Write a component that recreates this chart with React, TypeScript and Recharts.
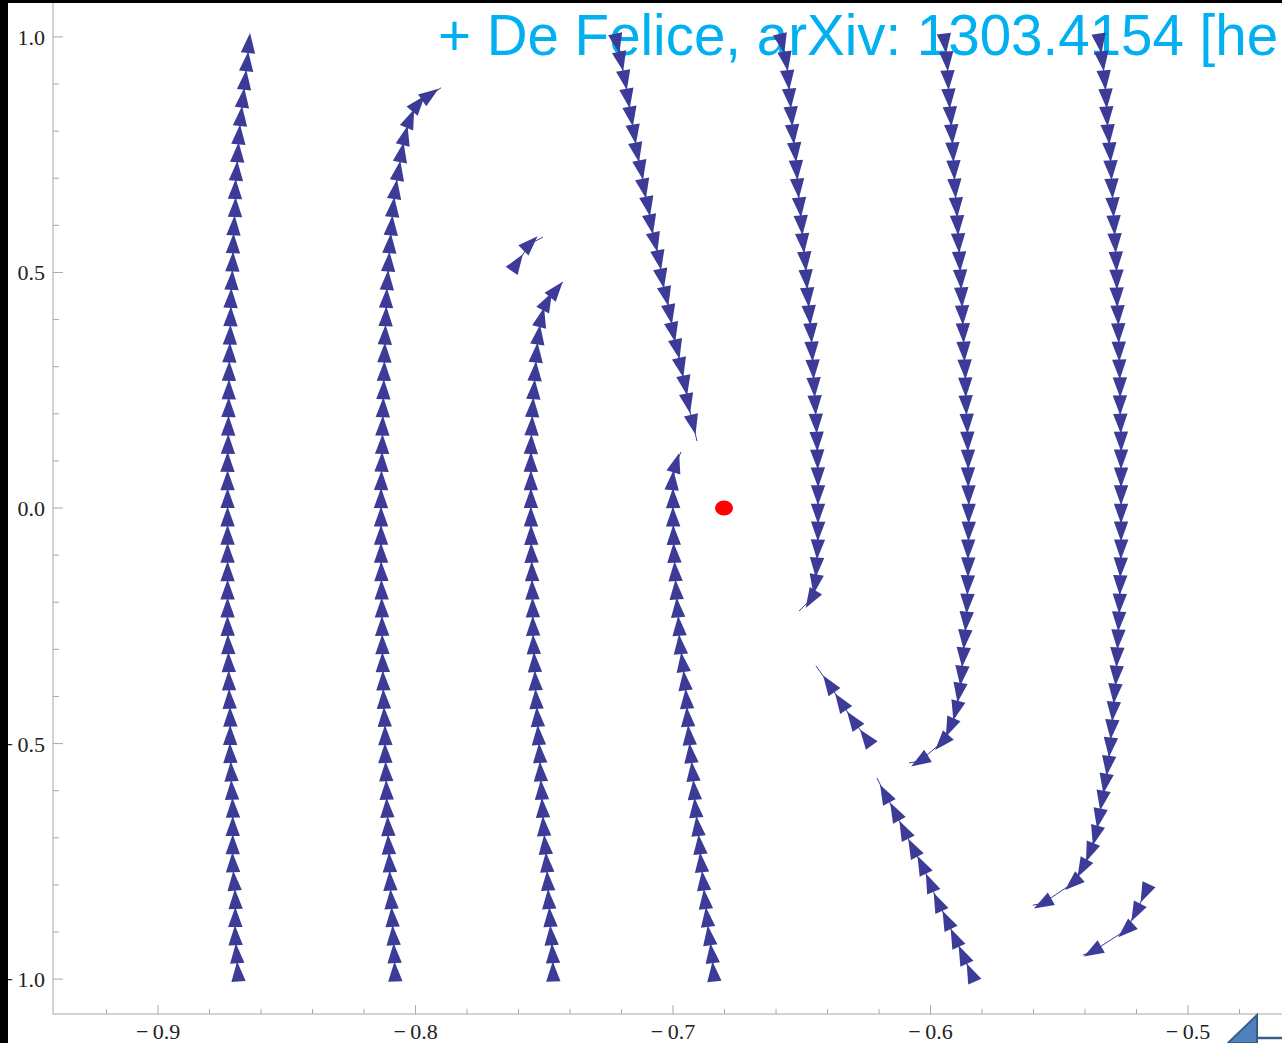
import React from "react";
import { ComposedChart, Line, XAxis, YAxis } from "recharts";

type Pt = [number, number];

// streamlines: arrowhead centres in flow order, last point = where the stream ends
const streamA: Pt[] = [
  [-0.869, -0.985], [-0.8695, -0.946], [-0.87, -0.908], [-0.87, -0.869], [-0.87, -0.831], [-0.8705, -0.792],
  [-0.871, -0.753], [-0.871, -0.715], [-0.871, -0.676], [-0.871, -0.637], [-0.8714, -0.599], [-0.8716, -0.56],
  [-0.872, -0.521], [-0.872, -0.483], [-0.872, -0.444], [-0.8723, -0.406], [-0.8725, -0.367], [-0.8726, -0.328],
  [-0.8728, -0.29], [-0.873, -0.251], [-0.873, -0.212], [-0.873, -0.174], [-0.873, -0.135], [-0.873, -0.096],
  [-0.873, -0.058], [-0.873, -0.019], [-0.873, 0.02], [-0.873, 0.058], [-0.873, 0.097], [-0.8728, 0.135],
  [-0.8727, 0.174], [-0.8726, 0.213], [-0.8725, 0.251], [-0.8724, 0.29], [-0.8722, 0.329], [-0.872, 0.367],
  [-0.8718, 0.406], [-0.8717, 0.445], [-0.8713, 0.483], [-0.871, 0.522], [-0.8708, 0.561], [-0.8705, 0.599],
  [-0.87, 0.638], [-0.87, 0.676], [-0.8695, 0.715], [-0.869, 0.754], [-0.8685, 0.792], [-0.8678, 0.831],
  [-0.867, 0.87], [-0.8662, 0.908], [-0.8654, 0.947], [-0.8647, 0.986], [-0.8643, 1.004],
];

const streamB: Pt[] = [
  [-0.808, -0.985], [-0.8083, -0.946], [-0.8087, -0.908], [-0.8091, -0.869], [-0.8095, -0.831], [-0.8099, -0.792],
  [-0.8101, -0.753], [-0.8105, -0.715], [-0.8107, -0.676], [-0.8111, -0.637], [-0.8113, -0.599], [-0.8115, -0.56],
  [-0.8118, -0.521], [-0.8118, -0.483], [-0.8121, -0.444], [-0.8124, -0.406], [-0.8126, -0.367], [-0.8128, -0.328],
  [-0.8129, -0.29], [-0.813, -0.251], [-0.8131, -0.212], [-0.8132, -0.174], [-0.8133, -0.135], [-0.8134, -0.096],
  [-0.8134, -0.058], [-0.8134, -0.019], [-0.8134, 0.02], [-0.8133, 0.058], [-0.8131, 0.097], [-0.8129, 0.135],
  [-0.8128, 0.174], [-0.8126, 0.213], [-0.8124, 0.251], [-0.8122, 0.29], [-0.812, 0.329], [-0.8118, 0.367],
  [-0.8115, 0.406], [-0.8113, 0.445], [-0.8109, 0.483], [-0.8104, 0.522], [-0.8099, 0.561], [-0.8093, 0.599],
  [-0.8087, 0.638], [-0.8078, 0.676], [-0.8066, 0.715], [-0.8054, 0.754], [-0.8041, 0.79], [-0.8021, 0.826],
  [-0.799, 0.858], [-0.7944, 0.877], [-0.7901, 0.892],
];

const streamC: Pt[] = [
  [-0.7466, -0.985], [-0.7468, -0.946], [-0.7474, -0.908], [-0.7478, -0.869], [-0.7483, -0.831], [-0.7487, -0.792],
  [-0.7491, -0.753], [-0.7497, -0.715], [-0.7503, -0.676], [-0.7507, -0.637], [-0.7511, -0.599], [-0.7515, -0.56],
  [-0.7518, -0.521], [-0.7523, -0.483], [-0.7527, -0.444], [-0.7532, -0.406], [-0.7535, -0.367], [-0.7538, -0.328],
  [-0.7542, -0.29], [-0.7544, -0.251], [-0.7545, -0.212], [-0.7547, -0.174], [-0.7548, -0.135], [-0.755, -0.096],
  [-0.7551, -0.058], [-0.7552, -0.019], [-0.7552, 0.02], [-0.7552, 0.058], [-0.7552, 0.097], [-0.7551, 0.135],
  [-0.7548, 0.174], [-0.7545, 0.213], [-0.754, 0.251], [-0.7535, 0.29], [-0.753, 0.329], [-0.7522, 0.367],
  [-0.7511, 0.404], [-0.7489, 0.438], [-0.7454, 0.463], [-0.7427, 0.48],
];

const streamD: Pt[] = [
  [-0.6843, -0.985], [-0.685, -0.946], [-0.686, -0.908], [-0.6868, -0.869], [-0.6876, -0.831], [-0.6883, -0.792],
  [-0.6891, -0.753], [-0.6897, -0.715], [-0.6905, -0.676], [-0.6913, -0.637], [-0.6918, -0.599], [-0.6924, -0.56],
  [-0.6932, -0.521], [-0.6938, -0.483], [-0.6944, -0.444], [-0.6948, -0.406], [-0.6955, -0.367], [-0.6963, -0.328],
  [-0.6973, -0.29], [-0.6977, -0.251], [-0.6983, -0.212], [-0.6988, -0.174], [-0.6992, -0.135], [-0.6996, -0.096],
  [-0.6998, -0.058], [-0.7, -0.019], [-0.7, 0.02], [-0.7002, 0.058], [-0.6988, 0.095], [-0.6969, 0.119],
];

const streamE: Pt[] = [
  [-0.7217, 0.987], [-0.7202, 0.949], [-0.7187, 0.909], [-0.7175, 0.87], [-0.7163, 0.832], [-0.7151, 0.794],
  [-0.714, 0.756], [-0.7124, 0.718], [-0.7113, 0.679], [-0.7097, 0.641], [-0.7086, 0.603], [-0.707, 0.565],
  [-0.7054, 0.527], [-0.7043, 0.488], [-0.7027, 0.45], [-0.7012, 0.412], [-0.7, 0.374], [-0.6984, 0.338],
  [-0.6969, 0.299], [-0.6953, 0.261], [-0.6942, 0.223], [-0.6922, 0.178], [-0.6907, 0.142],
];

const streamF: Pt[] = [
  [-0.6577, 0.987], [-0.6561, 0.949], [-0.6553, 0.909], [-0.6546, 0.87], [-0.654, 0.832], [-0.6534, 0.794],
  [-0.6526, 0.756], [-0.652, 0.718], [-0.6515, 0.679], [-0.6507, 0.639], [-0.6501, 0.601], [-0.6495, 0.563],
  [-0.6487, 0.524], [-0.6482, 0.486], [-0.6476, 0.448], [-0.647, 0.41], [-0.6464, 0.372], [-0.646, 0.333],
  [-0.6456, 0.295], [-0.6452, 0.257], [-0.6448, 0.219], [-0.6444, 0.18], [-0.6441, 0.142], [-0.6439, 0.104],
  [-0.6437, 0.066], [-0.6437, 0.028], [-0.6437, -0.011], [-0.6437, -0.049], [-0.6439, -0.087], [-0.6443, -0.125],
  [-0.6448, -0.161], [-0.6464, -0.193], [-0.6511, -0.219],
];

const streamG: Pt[] = [
  [-0.5944, 0.987], [-0.5936, 0.949], [-0.5932, 0.909], [-0.5928, 0.87], [-0.5922, 0.832], [-0.5917, 0.794],
  [-0.5913, 0.756], [-0.5909, 0.718], [-0.5905, 0.679], [-0.5899, 0.639], [-0.5895, 0.601], [-0.5891, 0.563],
  [-0.5887, 0.524], [-0.5883, 0.486], [-0.5879, 0.448], [-0.5876, 0.41], [-0.5873, 0.372], [-0.587, 0.333],
  [-0.5866, 0.295], [-0.5864, 0.257], [-0.5862, 0.219], [-0.5858, 0.18], [-0.5856, 0.142], [-0.5854, 0.104],
  [-0.5854, 0.066], [-0.5852, 0.028], [-0.5852, -0.011], [-0.5852, -0.049], [-0.5854, -0.087], [-0.5854, -0.125],
  [-0.5856, -0.163], [-0.5858, -0.202], [-0.5862, -0.24], [-0.5868, -0.278], [-0.5874, -0.316], [-0.588, -0.355],
  [-0.5889, -0.391], [-0.5901, -0.429], [-0.5924, -0.465], [-0.5955, -0.497], [-0.6041, -0.537], [-0.6083, -0.541],
];

const streamH: Pt[] = [
  [-0.5342, 0.987], [-0.5332, 0.949], [-0.5324, 0.909], [-0.5318, 0.87], [-0.5315, 0.832], [-0.5309, 0.794],
  [-0.5303, 0.756], [-0.5299, 0.718], [-0.5295, 0.679], [-0.5291, 0.639], [-0.5287, 0.601], [-0.5283, 0.563],
  [-0.5279, 0.524], [-0.5277, 0.486], [-0.5276, 0.448], [-0.5272, 0.41], [-0.527, 0.372], [-0.5268, 0.333],
  [-0.5266, 0.295], [-0.5264, 0.257], [-0.5264, 0.219], [-0.5262, 0.18], [-0.526, 0.142], [-0.526, 0.104],
  [-0.526, 0.066], [-0.526, 0.028], [-0.526, -0.011], [-0.526, -0.049], [-0.526, -0.087], [-0.5262, -0.125],
  [-0.5264, -0.163], [-0.5266, -0.202], [-0.5269, -0.24], [-0.5272, -0.278], [-0.5276, -0.316], [-0.5279, -0.355],
  [-0.5285, -0.393], [-0.5291, -0.431], [-0.5297, -0.469], [-0.5303, -0.507], [-0.5311, -0.546], [-0.5322, -0.584],
  [-0.5334, -0.62], [-0.5346, -0.658], [-0.5359, -0.694], [-0.5381, -0.73], [-0.541, -0.764], [-0.5447, -0.796],
  [-0.5563, -0.839], [-0.5602, -0.843],
];

const streamI: Pt[] = [
  [-0.5167, -0.817], [-0.5202, -0.858], [-0.5241, -0.896], [-0.5369, -0.941], [-0.5408, -0.949],
];

const streamJ: Pt[] = [
  [-0.5843, -0.987], [-0.5874, -0.949], [-0.5905, -0.913], [-0.5936, -0.875], [-0.5971, -0.837], [-0.6002, -0.796],
  [-0.6033, -0.758], [-0.6068, -0.722], [-0.6103, -0.684], [-0.6138, -0.645], [-0.6177, -0.607], [-0.6208, -0.573],
];

const streamK: Pt[] = [
  [-0.625, -0.488], [-0.6301, -0.45], [-0.6348, -0.412], [-0.6394, -0.374], [-0.6445, -0.335],
];

const streamS: Pt[] = [
  [-0.7606, 0.52], [-0.7555, 0.561], [-0.7505, 0.575],
];

const fixedPoint: Pt[] = [[-0.6802, 0]];

const xTicks = [
  -0.92, -0.9, -0.88, -0.86, -0.84, -0.82, -0.8, -0.78, -0.76, -0.74, -0.72, -0.7,
  -0.68, -0.66, -0.64, -0.62, -0.6, -0.58, -0.56, -0.54, -0.52, -0.5, -0.48,
];
const xLabels = [-0.9, -0.8, -0.7, -0.6, -0.5];
const yTicks = [
  -1.0, -0.9, -0.8, -0.7, -0.6, -0.5, -0.4, -0.3, -0.2, -0.1, 0.0,
  0.1, 0.2, 0.3, 0.4, 0.5, 0.6, 0.7, 0.8, 0.9, 1.0,
];
const yLabels = [-1.0, -0.5, 0.0, 0.5, 1.0];

const caption = "+ De Felice, arXiv: 1303.4154 [he";

const streams = [streamA, streamB, streamC, streamD, streamE, streamF, streamG, streamH, streamI, streamJ, streamK, streamS];

const ARROW = "#3d3b98";
const FRAME = "#a8a8a8";
const SERIF = "'Liberation Serif', 'Times New Roman', serif";

const rows = (pts: Pt[]) => pts.map(([x, y]) => ({ x, y }));

const fmt = (v: number) => {
  const s = Math.abs(v).toFixed(1);
  return v < 0 ? `\u2212\u2009${s}` : s;
};

// arrowhead pointing along the stream; the stream's last point only ends the line
function Arrow(props: any) {
  const { cx, cy, index, points } = props;
  const pts = points || [];
  const n = pts.length;
  if (cx == null || cy == null || n < 2 || index === n - 1) return <g key={`e-${index}`} />;
  const a = pts[Math.max(index - 1, 0)];
  const b = pts[Math.min(index + 1, n - 1)];
  let dx = b.x - a.x;
  let dy = b.y - a.y;
  const len = Math.hypot(dx, dy) || 1;
  dx /= len;
  dy /= len;
  const tx = cx + dx * 10.5;
  const ty = cy + dy * 10.5;
  const bx = cx - dx * 9.5;
  const by = cy - dy * 9.5;
  const px = -dy * 7.2;
  const py = dx * 7.2;
  return (
    <polygon
      key={`a-${index}`}
      points={`${tx},${ty} ${bx + px},${by + py} ${bx - px},${by - py}`}
      fill={ARROW}
    />
  );
}

function RedDot(props: any) {
  const { cx, cy, index } = props;
  if (cx == null || cy == null) return <g key={`r-${index}`} />;
  return <ellipse key={`r-${index}`} cx={cx} cy={cy} rx={9} ry={7.5} fill="#ff0000" />;
}

function BottomTick(props: any) {
  const { x, y, payload } = props;
  const major = xLabels.includes(payload.value);
  return (
    <g>
      <line x1={x} x2={x} y1={y} y2={y - (major ? 9 : 5)} stroke={FRAME} />
      {major && (
        <text x={x} y={y + 25} textAnchor="middle" fontFamily={SERIF} fontSize={22} fill="#222">
          {fmt(payload.value)}
        </text>
      )}
    </g>
  );
}

function TopTick(props: any) {
  const { x, y, payload } = props;
  const major = xLabels.includes(payload.value);
  return <line x1={x} x2={x} y1={y} y2={y + (major ? 9 : 5)} stroke={FRAME} />;
}

function LeftTick(props: any) {
  const { x, y, payload } = props;
  const major = yLabels.includes(payload.value);
  return (
    <g>
      <line x1={x} x2={x + (major ? 10 : 6)} y1={y} y2={y} stroke={FRAME} />
      {major && (
        <text x={x - 8} y={y + 8} textAnchor="end" fontFamily={SERIF} fontSize={22} fill="#222">
          {fmt(payload.value)}
        </text>
      )}
    </g>
  );
}

export default function App() {
  return (
    <div
      style={{
        position: "fixed",
        left: 0,
        top: 0,
        width: 1282,
        height: 1043,
        overflow: "hidden",
        background: "#fff",
      }}
    >
      <svg width={1282} height={80} style={{ position: "absolute", left: 0, top: 0 }}>
        <text
          x={438}
          y={55}
          fontFamily="'Liberation Sans', Arial, sans-serif"
          fontSize={56.5}
          fill="#00b0f0"
        >
          {caption}
        </text>
      </svg>
      <div style={{ position: "absolute", left: 0, top: 0 }}>
        <ComposedChart width={1291} height={1043} margin={{ top: 3, right: 0, bottom: 0, left: 0 }}>
          <XAxis
            type="number"
            dataKey="x"
            domain={[-0.9408, -0.46]}
            allowDataOverflow
            ticks={xTicks}
            interval={0}
            height={29}
            tickSize={0}
            tickMargin={0}
            tickLine={false}
            axisLine={{ stroke: FRAME }}
            tick={(p: any) => <BottomTick {...p} />}
          />
          <XAxis
            xAxisId="top"
            orientation="top"
            type="number"
            dataKey="x"
            domain={[-0.9408, -0.46]}
            allowDataOverflow
            ticks={xTicks}
            interval={0}
            height={0}
            tickSize={0}
            tickMargin={0}
            tickLine={false}
            axisLine={{ stroke: FRAME }}
            tick={(p: any) => <TopTick {...p} />}
          />
          <YAxis
            type="number"
            dataKey="y"
            domain={[-1.074, 1.072]}
            allowDataOverflow
            ticks={yTicks}
            interval={0}
            width={53}
            tickSize={0}
            tickMargin={0}
            tickLine={false}
            axisLine={{ stroke: FRAME }}
            tick={(p: any) => <LeftTick {...p} />}
          />
          {streams.map((s, i) => (
            <Line
              key={i}
              data={rows(s)}
              dataKey="y"
              type="linear"
              stroke={ARROW}
              strokeWidth={1}
              dot={Arrow}
              activeDot={false}
              isAnimationActive={false}
            />
          ))}
          <Line
            data={rows(fixedPoint)}
            dataKey="y"
            stroke="none"
            dot={RedDot}
            activeDot={false}
            isAnimationActive={false}
          />
        </ComposedChart>
      </div>
      <svg width={60} height={32} style={{ position: "absolute", left: 1224, top: 1011 }}>
        <polygon points="33,4 4,32 33,32" fill="#4f81bd" stroke="#385d8a" strokeWidth={2} />
        <line x1={33} y1={27} x2={60} y2={27} stroke="#385d8a" strokeWidth={2.5} />
      </svg>
      <div style={{ position: "absolute", left: 0, top: 0, width: 1282, height: 3, background: "#000" }} />
      <div style={{ position: "absolute", left: 0, top: 0, width: 8, height: 1043, background: "#000" }} />
    </div>
  );
}
